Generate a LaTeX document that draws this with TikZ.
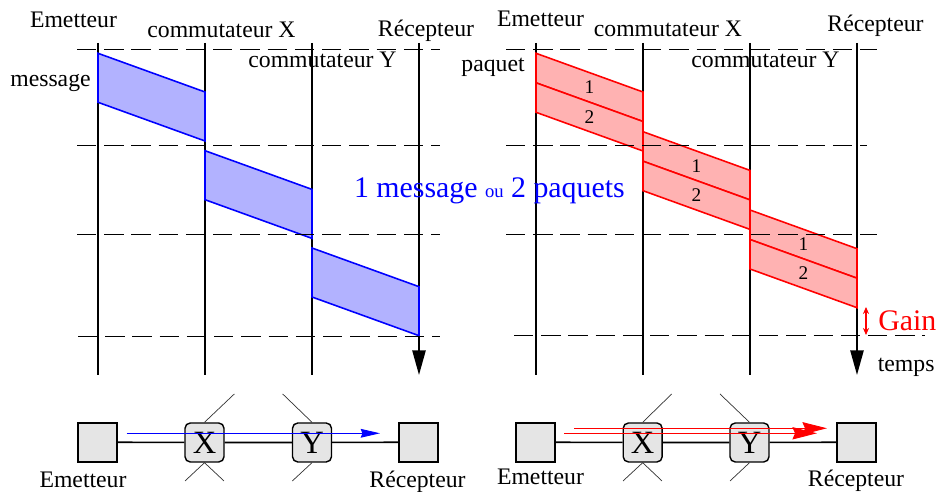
\documentclass[tikz,border=0pt]{standalone}
\usepackage{fontspec}
\setmainfont{Liberation Serif}
\usepackage{tikz}
\usetikzlibrary{arrows.meta,positioning}
\tikzset{font=\fontsize{13.5}{16}\selectfont}
\tikzset{every node/.append style={inner sep=0pt}}
\tikzset{lifeline/.style={line width=1.1pt}}
\tikzset{sepline/.style={dash pattern=on 11pt off 4.5pt, line width=0.55pt}}
\tikzset{msgbox/.style={draw=blue, fill=blue!30, line width=0.9pt}}
\tikzset{pktbox/.style={draw=red, fill=red!30, line width=0.9pt}}
\tikzset{pktnum/.style={font=\fontsize{11}{12}\selectfont}}
\tikzset{host/.style={draw, fill=black!10, line width=1.1pt, minimum size=0.78cm}}
\tikzset{switch/.style={draw, fill=black!10, line width=0.8pt, rounded corners=3pt, minimum size=0.78cm, font=\fontsize{18.5}{20}\selectfont}}
\tikzset{link/.style={line width=0.9pt}}
\tikzset{wire/.style={line width=0.4pt, black!80}}

\begin{document}
\begin{tikzpicture}[x=0.02cm,y=-0.02cm]
\useasboundingbox (0,0) rectangle (938,492);
\pgfmathsetmacro{\DROP}{38.7}
\pgfmathsetmacro{\MSGH}{49}
\pgfmathsetmacro{\PKTH}{29.5}
\pgfmathsetmacro{\HOP}{107}
% commutation de messages
\coordinate (t1top) at (419,43);
\coordinate (t1end) at (419,375);
\draw[lifeline] (98,43)--(98,375);
\draw[lifeline] (205,43)--(205,375);
\draw[lifeline] (312,43)--(312,375);
\draw[lifeline,-{Triangle[length=14pt,width=7.5pt]}] (t1top)--(t1end);
\draw[msgbox] (98,53.3) -- ++(\HOP,\DROP) -- ++(0,\MSGH) -- ++(-\HOP,-\DROP) -- cycle;
\draw[msgbox] (205,150.7) -- ++(\HOP,\DROP) -- ++(0,\MSGH) -- ++(-\HOP,-\DROP) -- cycle;
\draw[msgbox] (312,248) -- ++(\HOP,\DROP) -- ++(0,\MSGH) -- ++(-\HOP,-\DROP) -- cycle;
\draw[sepline] (77,49.3)--(440,49.3);
\draw[sepline] (77,145.7)--(440,145.7);
\draw[sepline] (77,234.3)--(440,234.3);
\draw[sepline] (78,336.5)--(440,336.5);
\node[anchor=base] (em1) at (73.5,28) {Emetteur};
\node[anchor=base] (cx1) at (221.5,38) {commutateur X};
\node[anchor=base] (re1) at (426,37) {Récepteur};
\node[anchor=base] (cy1) at (322.5,68) {commutateur Y};
\node[anchor=base east] (msg) at (91,87) {message};
% commutation de paquets
\coordinate (t2top) at (857,43);
\coordinate (t2end) at (857,375);
\draw[lifeline] (536,43)--(536,375);
\draw[lifeline] (643,43)--(643,375);
\draw[lifeline] (750,43)--(750,375);
\draw[lifeline,-{Triangle[length=14pt,width=7.5pt]}] (t2top)--(t2end);
\draw[pktbox] (536,53.3) -- ++(\HOP,\DROP) -- ++(0,\PKTH) -- ++(-\HOP,-\DROP) -- cycle;
\draw[pktbox] (536,82.8) -- ++(\HOP,\DROP) -- ++(0,\PKTH) -- ++(-\HOP,-\DROP) -- cycle;
\draw[pktbox] (643,131.7) -- ++(\HOP,\DROP) -- ++(0,\PKTH) -- ++(-\HOP,-\DROP) -- cycle;
\draw[pktbox] (643,161.2) -- ++(\HOP,\DROP) -- ++(0,\PKTH) -- ++(-\HOP,-\DROP) -- cycle;
\draw[pktbox] (750,210) -- ++(\HOP,\DROP) -- ++(0,\PKTH) -- ++(-\HOP,-\DROP) -- cycle;
\draw[pktbox] (750,239.5) -- ++(\HOP,\DROP) -- ++(0,\PKTH) -- ++(-\HOP,-\DROP) -- cycle;
\node[pktnum] (p11) at (589.5,87.4) {1};
\node[pktnum] (p12) at (589.5,116.9) {2};
\node[pktnum] (p21) at (696.5,165.8) {1};
\node[pktnum] (p22) at (696.5,195.3) {2};
\node[pktnum] (p31) at (803.5,244.1) {1};
\node[pktnum] (p32) at (803.5,273.6) {2};
\draw[sepline] (506,49.3)--(877,49.3);
\draw[sepline] (506,145.7)--(867,145.7);
\draw[sepline] (506,234.3)--(877,234.3);
\draw[sepline] (514,335.5)--(925,335.5);
\node[anchor=base] (em2) at (540.5,27) {Emetteur};
\node[anchor=base] (cx2) at (668,37) {commutateur X};
\node[anchor=base] (re2) at (875.5,32) {Récepteur};
\node[anchor=base] (cy2) at (765.5,68) {commutateur Y};
\node[anchor=base east] (pqt) at (525,72) {paquet};
\coordinate (g1) at (866,307);
\coordinate (g2) at (866,335);
\draw[red,line width=0.6pt,{Stealth[length=4pt,width=3.5pt]}-{Stealth[length=4pt,width=3.5pt]}] (g1)--(g2);
\node[anchor=base west,text=red,font=\fontsize{17}{20}\selectfont] (gain) at (878,330.7) {Gain};
\node[anchor=base west] (tps) at (877.5,371.7) {temps};
\node[anchor=base,text=blue,font=\fontsize{17}{20}\selectfont] (bilan) at (489.4,197.7)
 {1 message {\fontsize{10.6}{12}\selectfont ou} 2 paquets};
% reseaux
\node[host] (he1) at (97.5,442.2) {};
\node[switch] (sx1) at (204.5,442.5) {X};
\node[switch] (sy1) at (312,442.5) {Y};
\node[host] (hr1) at (418.3,442.2) {};
\draw[link] (he1)--(sx1)--(sy1)--(hr1);
\coordinate (xa1) at (234.3,394);
\coordinate (xb1) at (185,481);
\coordinate (xc1) at (224,481);
\coordinate (ya1) at (282.7,394);
\coordinate (yb1) at (292.3,481);
\draw[wire] (sx1.north)--(xa1);
\draw[wire] (xb1)--(sx1.south)--(xc1);
\draw[wire] (ya1)--(sy1.north);
\draw[wire] (sy1.south)--(yb1);
\coordinate (ba1) at (126.7,433.3);
\coordinate (ba2) at (380,433.3);
\draw[blue,line width=0.5pt,-{Stealth[length=11pt,width=5pt,inset=1pt]}] (ba1)--(ba2);
\node[anchor=base] (le1) at (83,488) {Emetteur};
\node[anchor=base] (lr1) at (417.5,488) {Récepteur};
\node[host] (he2) at (535.3,442.2) {};
\node[switch] (sx2) at (642.7,442.5) {X};
\node[switch] (sy2) at (749.5,442.5) {Y};
\node[host] (hr2) at (856.3,442.2) {};
\draw[link] (he2)--(sx2)--(sy2)--(hr2);
\coordinate (xa2) at (671.7,394);
\coordinate (xb2) at (623,481);
\coordinate (xc2) at (662,481);
\coordinate (ya2) at (720,394);
\coordinate (yb2) at (730,481);
\draw[wire] (sx2.north)--(xa2);
\draw[wire] (xb2)--(sx2.south)--(xc2);
\draw[wire] (ya2)--(sy2.north);
\draw[wire] (sy2.south)--(yb2);
\coordinate (ra1) at (574,428.3);
\coordinate (ra2) at (827,428.3);
\coordinate (rb1) at (564,433.3);
\coordinate (rb2) at (817,433.3);
\draw[red,line width=0.5pt,-{Stealth[length=14pt,width=7pt,inset=1.5pt]}] (ra1)--(ra2);
\draw[red,line width=0.5pt,-{Stealth[length=14pt,width=7pt,inset=1.5pt]}] (rb1)--(rb2);
\node[anchor=base] (le2) at (540.5,485) {Emetteur};
\node[anchor=base] (lr2) at (856,487) {Récepteur};
\end{tikzpicture}
\end{document}
